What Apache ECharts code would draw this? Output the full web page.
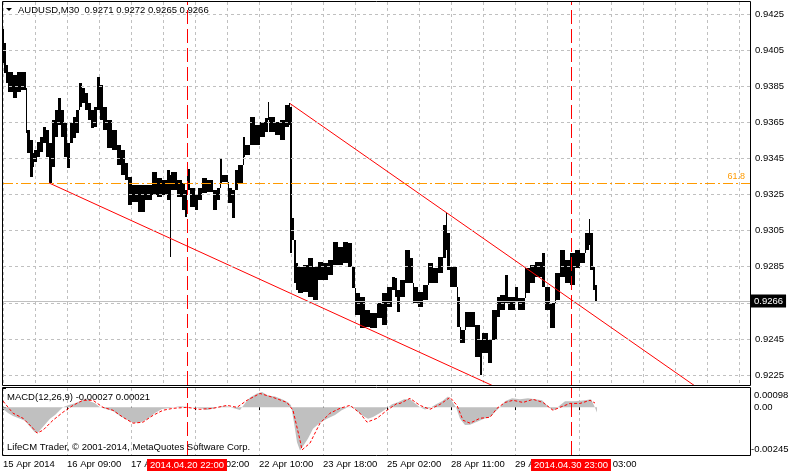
<!DOCTYPE html>
<html><head><meta charset="utf-8">
<script src="https://cdn.jsdelivr.net/npm/echarts@6/dist/echarts.min.js"></script>
<style>html,body{margin:0;padding:0;background:#fff}#c{width:790px;height:473px}</style>
</head><body><div id="c"></div>
<script>
// ---------- data ----------
const headerText = 'AUDUSD,M30  0.9271 0.9272 0.9265 0.9266';
const macdTitle = 'MACD(12,26,9) -0.00027 0.00021';
const copyrightText = 'LifeCM Trader, \u00A9 2001-2014, MetaQuotes Software Corp.';

// M30 bar index where each reading segment starts (bar 0 = 15 Apr 2014 01:00)
const barStart = [
0,1,3,5,10,14,18,23,24,27,
30,31,34,37,40,43,46,49,52,55,
58,61,64,67,70,73,76,79,82,85,
88,91,94,97,100,104,109,114,118,122,
125,129,135,142,149,154,159,164,167,168,
174,179,182,184,187,192,195,199,204,210,
214,217,219,225,229,232,235,240,242,247,
252,257,262,265,266,272,277,282,286,287,
289,291,293,295,300,305,310,315,320,325,
330,335,340,345,349,352,357,362,367,374,
379,384,389,392,394,397,402,407,410,415,
420,425,430,435,440,443,444,447,454,457,
462,472,477,479,485,489,494,497,502,505,
512,515,522,527,532,539,542,547,552,557,
562,567,572,577,582,586,587,590,592];
const lastBar = 594;
const barHigh = [
0.94167,0.94089,0.93967,0.93929,0.93912,0.93929,0.93929,0.93840,0.93607,0.93552,
0.93480,0.93497,0.93541,0.93569,0.93624,0.93607,0.93535,0.93663,0.93718,0.93785,
0.93718,0.93646,0.93535,0.93646,0.93679,0.93718,0.93868,0.93840,0.93812,0.93757,
0.93718,0.93735,0.93901,0.93857,0.93735,0.93663,0.93607,0.93524,0.93497,0.93425,
0.93347,0.93303,0.93303,0.93303,0.93375,0.93341,0.93330,0.93386,0.93358,0.93375,
0.93330,0.93314,0.93275,0.93391,0.93286,0.93247,0.93286,0.93341,0.93330,0.93275,
0.93286,0.93452,0.93358,0.93286,0.93275,0.93386,0.93413,0.93569,0.93524,0.93679,
0.93635,0.93652,0.93674,0.93762,0.93679,0.93652,0.93663,0.93746,0.93757,0.93735,
0.93120,0.92998,0.92871,0.92848,0.92860,0.92898,0.92848,0.92876,0.92871,0.92887,
0.92987,0.92959,0.92987,0.92981,0.92848,0.92704,0.92682,0.92610,0.92594,0.92649,
0.92704,0.92738,0.92793,0.92787,0.92721,0.92776,0.92943,0.92898,0.92738,0.92710,
0.92749,0.92871,0.92843,0.92904,0.93081,0.93148,0.93037,0.92848,0.92682,0.92499,
0.92599,0.92527,0.92444,0.92483,0.92444,0.92610,0.92682,0.92693,0.92804,0.92682,
0.92738,0.92677,0.92843,0.92860,0.92876,0.92926,0.92738,0.92649,0.92815,0.92943,
0.92887,0.92926,0.92943,0.92926,0.93037,0.93114,0.93037,0.92848,0.92749];
const barLow = [
0.93978,0.93923,0.93868,0.93818,0.93785,0.93818,0.93829,0.93591,0.93480,0.93347,
0.93402,0.93430,0.93458,0.93485,0.93535,0.93458,0.93314,0.93402,0.93569,0.93635,
0.93569,0.93458,0.93397,0.93535,0.93563,0.93591,0.93735,0.93757,0.93718,0.93663,
0.93618,0.93624,0.93718,0.93663,0.93607,0.93508,0.93497,0.93413,0.93358,0.93330,
0.93192,0.93209,0.93153,0.93220,0.93247,0.93236,0.93247,0.93220,0.92904,0.93275,
0.93236,0.93164,0.93125,0.93275,0.93181,0.93164,0.93220,0.93258,0.93264,0.93164,
0.93220,0.93314,0.93319,0.93203,0.93120,0.93275,0.93314,0.93458,0.93469,0.93524,
0.93524,0.93569,0.93596,0.93663,0.93596,0.93580,0.93552,0.93624,0.93635,0.92926,
0.92998,0.92760,0.92721,0.92704,0.92710,0.92682,0.92666,0.92776,0.92776,0.92804,
0.92860,0.92860,0.92871,0.92848,0.92732,0.92582,0.92510,0.92516,0.92510,0.92566,
0.92527,0.92627,0.92721,0.92682,0.92599,0.92682,0.92760,0.92760,0.92649,0.92627,
0.92666,0.92760,0.92760,0.92815,0.92898,0.92943,0.92832,0.92738,0.92516,0.92427,
0.92516,0.92350,0.92250,0.92372,0.92317,0.92444,0.92571,0.92610,0.92649,0.92610,
0.92655,0.92610,0.92704,0.92760,0.92793,0.92738,0.92610,0.92510,0.92666,0.92793,
0.92760,0.92749,0.92843,0.92871,0.92943,0.92970,0.92832,0.92721,0.92655];

const priceTicks = [0.9225,0.9245,0.9265,0.9285,0.9305,0.9325,0.9345,0.9365,0.9385,0.9405,0.9425];
const priceLabelTicks = [0.9225,0.9245,0.9285,0.9305,0.9325,0.9345,0.9365,0.9385,0.9405,0.9425];
const priceMin = 0.921946, priceMax = 0.943165;
const bidPrice = 0.9266;
const fibLevel = 0.93315, fibLabel = '61.8';
const trendLower = [[46,0.93314],[490,0.92190]];
const trendUpper = [[287,0.93754],[692,0.92189]];

const timeTickBars = [0,64,128,192,256,320,384,448,512,576];
const timeTickLabels = ['15 Apr 2014','16 Apr 09:00','17 Apr 17:00','21 Apr 02:00','22 Apr 10:00','23 Apr 18:00','25 Apr 02:00','28 Apr 11:00','29 Apr 19:00','01 May 03:00'];
const vlineBars = [184,568];
const vlineLabels = ['2014.04.20 22:00','2014.04.30 23:00'];

const macdTicks = [0.00098,0,-0.00245];
const macdTickLabels = ['0.00098','0.00','-0.00245'];
const macdMin = -0.00245, macdMax = 0.00098;
const macdHist = [[0,-0.00010],[5,-0.00030],[10,-0.00045],[17,-0.00060],[22,-0.00070],[27,-0.00100],[32,-0.00130],[35,-0.00130],[40,-0.00100],[47,-0.00060],[52,-0.00040],[57,-0.00015],[60,0.00000],[65,0.00010],[72,0.00020],[79,0.00035],[83,0.00045],[87,0.00030],[92,0.00020],[97,0.00000],[103,-0.00010],[110,-0.00020],[117,-0.00045],[124,-0.00065],[130,-0.00080],[137,-0.00080],[145,-0.00060],[152,-0.00030],[159,-0.00010],[167,-0.00005],[177,0.00005],[187,0.00000],[197,-0.00005],[204,-0.00015],[210,-0.00008],[217,0.00005],[224,0.00005],[230,-0.00005],[237,-0.00015],[242,0.00020],[247,0.00050],[254,0.00070],[259,0.00077],[265,0.00060],[272,0.00055],[279,0.00040],[285,0.00025],[288,0.00010],[291,-0.00080],[294,-0.00180],[297,-0.00222],[300,-0.00200],[305,-0.00160],[310,-0.00110],[317,-0.00080],[324,-0.00060],[332,-0.00040],[339,-0.00015],[345,0.00000],[349,0.00005],[354,-0.00020],[360,-0.00045],[365,-0.00060],[370,-0.00050],[377,-0.00030],[383,-0.00010],[389,0.00015],[395,0.00025],[401,0.00040],[407,0.00040],[412,0.00020],[417,0.00000],[422,-0.00012],[427,-0.00005],[433,0.00015],[439,0.00030],[445,0.00055],[449,0.00030],[453,0.00000],[457,-0.00060],[462,-0.00092],[467,-0.00090],[474,-0.00075],[481,-0.00060],[487,-0.00050],[493,-0.00020],[497,0.00000],[502,0.00030],[509,0.00045],[517,0.00040],[525,0.00045],[532,0.00040],[539,0.00035],[544,0.00010],[548,-0.00010],[552,-0.00015],[557,0.00010],[562,0.00030],[572,0.00030],[582,0.00035],[588,0.00040],[591,0.00010],[594,-0.00027]];
const macdSignal = [[0,0.00031],[10,-0.00031],[20,-0.00057],[30,-0.00108],[34,-0.00133],[40,-0.00118],[50,-0.00067],[60,-0.00026],[70,0.00009],[80,0.00035],[90,0.00035],[100,-0.00001],[110,-0.00016],[120,-0.00052],[130,-0.00082],[140,-0.00077],[150,-0.00042],[160,-0.00016],[170,-0.00006],[184,-0.00001],[197,-0.00011],[210,-0.00006],[224,0.00009],[234,-0.00001],[244,0.00035],[257,0.00070],[270,0.00050],[284,0.00024],[290,-0.00016],[297,-0.00169],[299,-0.00219],[307,-0.00184],[317,-0.00082],[327,-0.00031],[337,-0.00006],[347,0.00009],[357,-0.00031],[364,-0.00077],[374,-0.00057],[384,-0.00016],[394,0.00019],[397,0.00019],[407,0.00045],[417,0.00009],[427,-0.00011],[437,0.00014],[447,0.00050],[454,0.00009],[460,-0.00067],[467,-0.00082],[477,-0.00057],[487,-0.00052],[494,-0.00006],[502,0.00024],[510,0.00035],[520,0.00024],[530,0.00040],[540,0.00024],[550,-0.00016],[557,-0.00001],[567,0.00019],[577,0.00019],[587,0.00035],[592,0.00021]];

// ---------- chart ----------
const FONT = 'Liberation Sans';
const FS = 9.5;
const gridColor = '#c0c0c0';
const orange = '#ff9a00';
const red = '#ff0000';
const fontStr = FS + 'px "' + FONT + '"';

const barData = barStart.map((s, i) => [s, i + 1 < barStart.length ? barStart[i + 1] : lastBar, barHigh[i], barLow[i]]);

const chart = echarts.init(document.getElementById('c'), null, {renderer: 'canvas'});
chart.setOption({
  animation: false,
  backgroundColor: '#ffffff',
  textStyle: {fontFamily: FONT},
  grid: [
    {left: 3, top: 2, width: 747, height: 383},
    {left: 3, top: 388, width: 747, height: 67}
  ],
  xAxis: [
    {type: 'value', gridIndex: 0, min: 0, max: 747, interval: 32,
      axisLine: {show: false}, axisTick: {show: false}, axisLabel: {show: false},
      splitLine: {show: true, lineStyle: {color: gridColor, type: [3, 3], width: 1}}},
    {type: 'value', gridIndex: 1, min: 0, max: 747, interval: 32,
      axisLine: {show: false},
      axisTick: {show: true, customValues: timeTickBars, length: 3, lineStyle: {color: '#000'}},
      axisLabel: {show: true, customValues: timeTickBars, align: 'left', margin: 4,
        formatter: v => { const i = timeTickBars.indexOf(v); return i >= 0 ? timeTickLabels[i] : ''; },
        color: '#000', fontSize: FS, fontFamily: FONT},
      splitLine: {show: true, lineStyle: {color: gridColor, type: [3, 3], width: 1}}}
  ],
  yAxis: [
    {type: 'value', gridIndex: 0, position: 'right', min: priceMin, max: priceMax, scale: true,
      axisLine: {show: false}, splitLine: {show: false},
      axisTick: {show: true, customValues: priceLabelTicks, length: 3, lineStyle: {color: '#000'}},
      axisLabel: {show: true, customValues: priceLabelTicks, margin: 5, formatter: v => v.toFixed(4),
        color: '#000', fontSize: FS, fontFamily: FONT}},
    {type: 'value', gridIndex: 1, position: 'right', min: macdMin, max: macdMax, scale: true,
      axisLine: {show: false}, splitLine: {show: false},
      axisTick: {show: true, customValues: macdTicks, length: 3, lineStyle: {color: '#000'}},
      axisLabel: {show: false}}
  ],
  series: [
    // horizontal grid, bid line and fib level
    {type: 'line', xAxisIndex: 0, yAxisIndex: 0, data: [], z: 1, silent: true,
      markLine: {silent: true, symbol: 'none', animation: false, precision: 5,
        data: priceTicks.map(v => ({yAxis: v, lineStyle: {color: gridColor, type: [3, 3], width: 1}, label: {show: false}}))
          .concat([
            {yAxis: bidPrice, lineStyle: {color: '#c0c0c0', type: 'solid', width: 1},
              label: {show: true, position: 'end', distance: 1, formatter: bidPrice.toFixed(4), color: '#fff',
                backgroundColor: '#000', padding: [2, 3, 1, 3], fontSize: FS, fontFamily: FONT}},
            {yAxis: fibLevel, lineStyle: {color: orange, type: [10, 3, 2, 3], width: 1},
              label: {show: true, position: 'insideEndTop', distance: [5, 2], formatter: fibLabel, color: orange,
                fontSize: 9, fontFamily: FONT}}
          ])}},
    // price bars (each reading segment + a 1px link to the previous segment, price is continuous)
    {type: 'custom', xAxisIndex: 0, yAxisIndex: 0, z: 2, silent: true, clip: true,
      data: barData, encode: {x: [0, 1], y: [2, 3]},
      renderItem: (params, api) => {
        const p1 = api.coord([api.value(0), api.value(2)]);
        const p2 = api.coord([api.value(1), api.value(3)]);
        const x0 = Math.round(p1[0]);
        const x1 = Math.max(x0 + 1, Math.round(p2[0]));
        const y0 = Math.round(p1[1]);
        const y1 = Math.max(y0 + 1, Math.round(p2[1]));
        const children = [{type: 'rect', shape: {x: x0, y: y0, width: x1 - x0, height: y1 - y0}, style: {fill: '#000'}}];
        const i = params.dataIndex;
        if (i > 0) {
          const prev = barData[i - 1];
          const q1 = api.coord([prev[0], prev[2]]);
          const q2 = api.coord([prev[0], prev[3]]);
          const py0 = Math.round(q1[1]), py1 = Math.round(q2[1]);
          let a = null, b = null;
          if (py1 < y0) { a = py1; b = y0; }        // previous range above current
          else if (py0 > y1) { a = y1; b = py0; }   // previous range below current
          if (a !== null) children.push({type: 'rect', shape: {x: x0, y: a, width: 1, height: b - a}, style: {fill: '#000'}});
        }
        return {type: 'group', children: children};
      }},
    // trend lines
    {type: 'line', xAxisIndex: 0, yAxisIndex: 0, z: 3, data: trendLower, symbol: 'none', clip: true, silent: true,
      lineStyle: {color: red, width: 1}},
    {type: 'line', xAxisIndex: 0, yAxisIndex: 0, z: 3, data: trendUpper, symbol: 'none', clip: true, silent: true,
      lineStyle: {color: red, width: 1}},
    // vertical lines, main panel
    {type: 'line', xAxisIndex: 0, yAxisIndex: 0, data: [], z: 4, silent: true,
      markLine: {silent: true, symbol: 'none', animation: false,
        data: vlineBars.map(b => ({xAxis: b, lineStyle: {color: red, type: [14, 5], width: 1}, label: {show: false}}))}},
    // MACD histogram
    {type: 'line', xAxisIndex: 1, yAxisIndex: 1, data: macdHist, z: 2, symbol: 'none', silent: true,
      lineStyle: {width: 0, color: '#c0c0c0'}, areaStyle: {color: '#c0c0c0', opacity: 1, origin: 0}},
    // MACD signal
    {type: 'line', xAxisIndex: 1, yAxisIndex: 1, data: macdSignal, z: 3, symbol: 'none', silent: true,
      lineStyle: {width: 1, color: red, type: [3, 2]},
      markLine: {silent: true, symbol: 'none', animation: false,
        data: vlineBars.map((b, i) => ({xAxis: b, lineStyle: {color: red, type: [14, 5], width: 1},
          label: {show: true, position: 'start', distance: 4, formatter: vlineLabels[i], color: '#fff',
            backgroundColor: red, padding: [1, 3, 1, 3], fontSize: FS, fontFamily: FONT}}))}}
  ],
  graphic: [
    {type: 'rect', z: 100, silent: true, shape: {x: 2.5, y: 1.5, width: 748, height: 384}, style: {fill: null, stroke: '#000', lineWidth: 1}},
    {type: 'rect', z: 100, silent: true, shape: {x: 2.5, y: 387.5, width: 748, height: 68}, style: {fill: null, stroke: '#000', lineWidth: 1}},
    {type: 'polygon', z: 100, silent: true, shape: {points: [[6, 8], [12, 8], [9, 11]]}, style: {fill: '#000'}},
    {type: 'text', z: 100, silent: true, x: 18, y: 10.5, style: {text: headerText, fill: '#000', font: fontStr, verticalAlign: 'middle'}},
    {type: 'text', z: 100, silent: true, x: 7, y: 397, style: {text: macdTitle, fill: '#000', font: fontStr, verticalAlign: 'middle'}},
    {type: 'text', z: 100, silent: true, x: 7, y: 447.5, style: {text: copyrightText, fill: '#000', font: fontStr, verticalAlign: 'middle'}},
    // MACD scale labels (MT4 keeps the extreme labels inside the panel)
    {type: 'text', z: 100, silent: true, x: 754, y: 395, style: {text: macdTickLabels[0], fill: '#000', font: fontStr, verticalAlign: 'middle'}},
    {type: 'text', z: 100, silent: true, x: 754, y: 407, style: {text: macdTickLabels[1], fill: '#000', font: fontStr, verticalAlign: 'middle'}},
    {type: 'text', z: 100, silent: true, x: 751, y: 449, style: {text: macdTickLabels[2], fill: '#000', font: fontStr, verticalAlign: 'middle'}}
  ]
});
</script>
</body></html>
